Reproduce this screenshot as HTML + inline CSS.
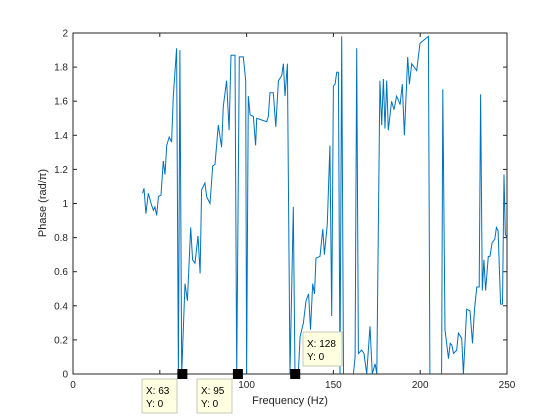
<!DOCTYPE html>
<html><head><meta charset="utf-8"><style>
body{margin:0;background:#fff;}
svg{display:block;font-family:"Liberation Sans","Noto Sans CJK JP",sans-serif;}
</style></head><body>
<svg id="chart" width="560" height="420">
<rect x="0" y="0" width="560" height="420" fill="#fff"/>
<rect x="73" y="33" width="434" height="341" fill="#fff"/>
<g id="ticks"></g>
<path id="line" fill="none" stroke="#0072bd" stroke-width="1"/>
<rect x="73" y="33" width="434" height="341" fill="none" stroke="#262626" stroke-width="1"/>
<g id="tips"></g>
<text x="290" y="404" font-size="11" text-anchor="middle" fill="#262626">Frequency (Hz)</text>
<text transform="translate(46,203) rotate(-90)" font-size="11" text-anchor="middle" fill="#262626">Phase (rad/π)</text>
</svg>
<script>
const xs=[40.1,40.9,42.0,43.4,45.3,46.3,47.2,48.2,49.2,50.7,52.0,53.0,54.0,55.4,56.8,57.8,59.7,60.7,61.6,62.6,64.5,65.9,67.8,68.9,70.3,72.0,73.2,74.1,76.0,77.0,78.9,80.5,81.8,83.7,85.6,86.6,88.5,89.9,91.0,93.3,94.3,95.8,98.1,99.5,100.0,101.0,102.0,103.9,105.2,105.8,108.7,111.6,112.5,113.5,115.4,116.8,118.3,120.2,121.2,122.1,123.5,125.0,126.9,127.9,129.8,130.8,132.7,134.2,135.7,136.8,138.1,139.1,140.0,142.3,143.9,144.8,146.5,148.0,149.0,150.0,151.0,151.9,152.9,153.8,154.8,155.8,161.5,162.5,163.4,164.4,166.3,167.6,169.2,171.1,172.4,174.0,175.0,176.8,177.8,178.8,179.7,180.7,181.6,183.5,184.9,186.4,188.4,189.7,190.9,192.8,193.8,195.1,198.0,199.9,204.7,205.6,212.3,213.0,214.3,216.3,217.3,218.2,219.2,221.0,222.0,223.9,224.9,226.8,228.7,230.1,231.3,232.6,234.0,234.8,235.8,236.7,237.7,239.2,240.2,241.4,243.0,243.9,244.9,246.3,247.4,248.3,249.0,250.0];
const ys=[1.06,1.09,0.94,1.06,0.99,0.96,0.98,0.93,1.04,1.05,1.25,1.17,1.34,1.39,1.36,1.63,1.91,0,1.9,0,0.53,0.43,0.86,0.67,0.65,0.81,0.59,1.08,1.12,1.04,1.0,1.22,1.23,1.46,1.33,1.57,1.72,1.43,1.87,1.87,0,1.86,1.86,1.72,0,1.63,1.52,1.51,1.34,1.5,1.49,1.48,1.51,1.65,1.65,1.45,1.72,1.75,1.82,1.63,1.82,0,0.98,0,0,0.22,0.3,0.43,0.47,0.26,0.53,0.47,0.68,0.69,0.85,0.70,0.88,1.34,0.34,1.69,1.70,1.77,1.77,0,1.98,0,0,0.1,1.91,0.12,0.14,0.12,0,0.28,0,0.06,0,1.72,1.46,1.73,1.44,1.72,1.43,1.6,1.55,1.63,1.58,1.7,1.4,1.86,1.7,1.82,1.78,1.94,1.98,0,0,1.67,0.26,0.09,0.18,0.17,0.12,0.14,0.24,0.21,0,0.38,0.37,0.18,0.38,0.51,0.51,1.64,0.49,0.67,0.49,0.69,0.69,0.77,0.79,0.86,0.84,0.41,0.41,1.17,0.82,0.8];
const xTicks=[0,50,100,150,200,250];
const yTicks=[0,0.2,0.4,0.6,0.8,1,1.2,1.4,1.6,1.8,2];
const tipX=[63,95,128];
const tipY=[0,0,0];
const X=v=>73+v*(434/250), Y=v=>374-v*(341/2);
const NS='http://www.w3.org/2000/svg';
let d='';xs.forEach((x,i)=>{d+=(i?'L':'M')+X(x).toFixed(1)+','+Y(ys[i]).toFixed(1);});
document.getElementById('line').setAttribute('d',d);
const g=document.getElementById('ticks');
function mk(tag,attrs,parent){const e=document.createElementNS(NS,tag);for(const k in attrs)e.setAttribute(k,attrs[k]);parent.appendChild(e);return e;}
xTicks.forEach(t=>{
 const l=mk('line',{x1:X(t),x2:X(t),y1:374,y2:370,stroke:'#262626'},g);
 
 
 const tx=mk('text',{x:X(t),y:388,'font-size':10,'text-anchor':'middle',fill:'#262626'},g);
 tx.textContent=t;
 
 
 const l2=mk('line',{x1:X(t),x2:X(t),y1:33,y2:37,stroke:'#262626'},g);
 
 
});
yTicks.forEach(t=>{
 const l=mk('line',{x1:73,x2:77,y1:Y(t),y2:Y(t),stroke:'#262626'},g);
 
 
 const l2=mk('line',{x1:503,x2:507,y1:Y(t),y2:Y(t),stroke:'#262626'},g);
 
 
 const tx=mk('text',{x:68,y:Y(t)+3.5,'font-size':10,'text-anchor':'end',fill:'#262626'},g);
 tx.textContent=String(t);
 
 
});
const tg=document.getElementById('tips');
const boxes=[[142,379],[197,379],[303,332]];
tipX.forEach((tx,i)=>{
 const m=mk('rect',{x:X(tx)-5,y:Y(tipY[i])-5,width:10,height:10,fill:'#000'},tg);
 
 
 const b=boxes[i];
 const w=String(tx).length>2?39:35;
 const r=mk('rect',{x:b[0],y:b[1],width:w,height:34,fill:'#ffffe1',stroke:'#c8c8b4'},tg);
 
 
 const t1=mk('text',{x:b[0]+4,y:b[1]+15,'font-size':10,fill:'#000'},tg);
 t1.textContent='X: '+tx;
 
 
 const t2=mk('text',{x:b[0]+4,y:b[1]+28,'font-size':10,fill:'#000'},tg);
 t2.textContent='Y: '+tipY[i];
 
 
});
</script>
</body></html>
